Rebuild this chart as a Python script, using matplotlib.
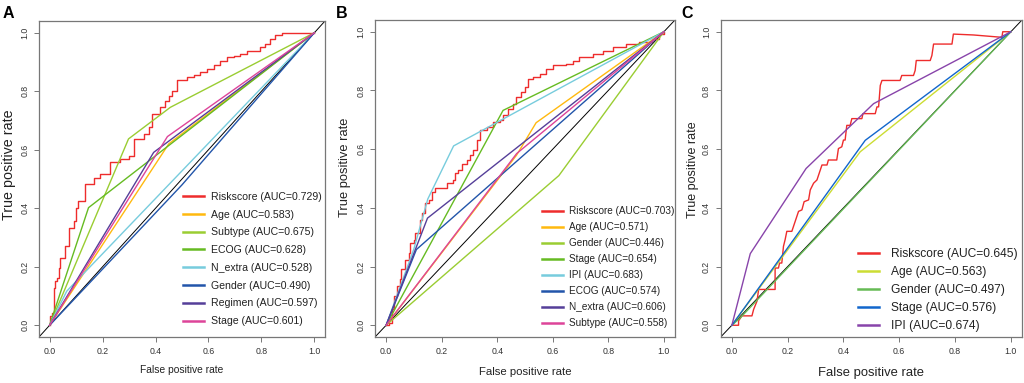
import matplotlib
matplotlib.use("Agg")
import matplotlib.pyplot as plt
from matplotlib import font_manager

# ---------------- data ----------------
# Panel A
a_names = ["Riskscore", "Age", "Subtype", "ECOG", "N_extra", "Gender", "Regimen", "Stage"]
a_auc = ["0.729", "0.583", "0.675", "0.628", "0.528", "0.490", "0.597", "0.601"]
a_colors = ["#EE2C2C", "#FFB90F", "#9ACD32", "#66BB22", "#77CCDD", "#2255AA", "#553F99", "#DD4499"]
a_risk_fpr = [0, 0.0025, 0.009, 0.015, 0.021, 0.028, 0.034, 0.040, 0.059, 0.074, 0.093, 0.101, 0.106,
              0.135, 0.166, 0.191, 0.227, 0.267, 0.298, 0.317, 0.358, 0.374, 0.387, 0.416, 0.437,
              0.450, 0.462, 0.481, 0.519, 0.544, 0.569, 0.594, 0.620, 0.645, 0.670, 0.695, 0.720,
              0.746, 0.796, 0.815, 0.834, 0.853, 0.878, 1.0]
a_risk_tpr = [0, 0.031, 0.042, 0.128, 0.151, 0.162, 0.197, 0.231, 0.271, 0.334, 0.357, 0.402, 0.425,
              0.482, 0.505, 0.517, 0.557, 0.568, 0.579, 0.637, 0.654, 0.677, 0.722, 0.745, 0.768,
              0.785, 0.802, 0.837, 0.848, 0.854, 0.865, 0.877, 0.888, 0.905, 0.917, 0.922, 0.928,
              0.939, 0.951, 0.962, 0.979, 0.991, 1.0, 1.0]
a_age_fpr = [0, 0.45, 1]
a_age_tpr = [0, 0.62, 1]
a_subtype_fpr = [0, 0.298, 0.456, 1]
a_subtype_tpr = [0, 0.637, 0.745, 1]
a_ecog_fpr = [0, 0.147, 1]
a_ecog_tpr = [0, 0.402, 1]
a_nextra_fpr = [0, 0.065, 1]
a_nextra_tpr = [0, 0.117, 1]
a_gender_fpr = [0, 0.5, 1]
a_gender_tpr = [0, 0.48, 1]
a_regimen_fpr = [0, 0.393, 1]
a_regimen_tpr = [0, 0.591, 1]
a_stage_fpr = [0, 0.445, 1]
a_stage_tpr = [0, 0.645, 1]

# Panel B
b_names = ["Riskscore", "Age", "Gender", "Stage", "IPI", "ECOG", "N_extra", "Subtype"]
b_auc = ["0.703", "0.571", "0.446", "0.654", "0.683", "0.574", "0.606", "0.558"]
b_colors = ["#EE2C2C", "#FFB90F", "#9ACD32", "#66BB22", "#77CCDD", "#2255AA", "#553F99", "#DD4499"]
b_risk_fpr = [0, 0.010, 0.021, 0.027, 0.039, 0.051, 0.055, 0.069, 0.081, 0.087, 0.099, 0.105, 0.123,
              0.129, 0.141, 0.153, 0.165, 0.177, 0.218, 0.242, 0.248, 0.260, 0.272, 0.290, 0.302,
              0.314, 0.326, 0.338, 0.362, 0.385, 0.409, 0.421, 0.439, 0.457, 0.469, 0.487, 0.499,
              0.511, 0.529, 0.553, 0.576, 0.600, 0.648, 0.672, 0.696, 0.743, 0.779, 0.815, 0.863,
              0.910, 0.958, 0.982, 1.0]
b_risk_tpr = [0, 0.009, 0.054, 0.099, 0.133, 0.156, 0.190, 0.224, 0.246, 0.280, 0.292, 0.314, 0.359,
              0.382, 0.416, 0.427, 0.455, 0.467, 0.484, 0.495, 0.518, 0.529, 0.551, 0.563, 0.580,
              0.597, 0.631, 0.664, 0.676, 0.693, 0.698, 0.715, 0.738, 0.755, 0.777, 0.794, 0.811,
              0.840, 0.845, 0.856, 0.873, 0.885, 0.890, 0.902, 0.913, 0.924, 0.936, 0.947, 0.958,
              0.964, 0.975, 0.992, 1.0]
b_age_fpr = [0, 0.47, 0.54, 1]
b_age_tpr = [0, 0.58, 0.69, 1]
b_gender_fpr = [0, 0.622, 1]
b_gender_tpr = [0, 0.51, 1]
b_stage_fpr = [0, 0.421, 1]
b_stage_tpr = [0, 0.732, 1]
b_ipi_fpr = [0, 0.10, 0.15, 0.243, 1]
b_ipi_tpr = [0, 0.26, 0.43, 0.611, 1]
b_ecog_fpr = [0, 0.109, 1]
b_ecog_tpr = [0, 0.258, 1]
b_nextra_fpr = [0, 0.149, 1]
b_nextra_tpr = [0, 0.365, 1]
b_subtype_fpr = [0, 0.47, 1]
b_subtype_tpr = [0, 0.585, 1]

# Panel C
c_names = ["Riskscore", "Age", "Gender", "Stage", "IPI"]
c_auc = ["0.645", "0.563", "0.497", "0.576", "0.674"]
c_colors = ["#EE2C2C", "#CCDD33", "#66BB55", "#1166CC", "#8844AA"]
c_risk_fpr = [0, 0.024, 0.024, 0.036, 0.072, 0.078, 0.090, 0.096, 0.155, 0.155, 0.167, 0.171, 0.179,
              0.185, 0.191, 0.197, 0.215, 0.221, 0.227, 0.233, 0.239, 0.251, 0.259, 0.275, 0.281,
              0.293, 0.305, 0.311, 0.323, 0.341, 0.346, 0.376, 0.382, 0.394, 0.400, 0.406, 0.412,
              0.424, 0.430, 0.466, 0.470, 0.514, 0.520, 0.526, 0.532, 0.538, 0.603, 0.609, 0.651,
              0.657, 0.661, 0.711, 0.717, 0.723, 0.789, 0.794, 0.866, 0.968, 0.971, 1.0]
c_risk_tpr = [0, 0, 0.015, 0.032, 0.032, 0.054, 0.082, 0.122, 0.122, 0.195, 0.195, 0.212, 0.212,
              0.269, 0.292, 0.320, 0.320, 0.337, 0.354, 0.371, 0.388, 0.393, 0.421, 0.427, 0.461,
              0.484, 0.495, 0.512, 0.546, 0.546, 0.563, 0.563, 0.602, 0.608, 0.631, 0.631, 0.681,
              0.681, 0.704, 0.704, 0.721, 0.721, 0.744, 0.744, 0.817, 0.834, 0.834, 0.851, 0.851,
              0.868, 0.902, 0.902, 0.919, 0.958, 0.958, 0.992, 0.989, 0.981, 1.0, 1.0]
c_age_fpr = [0, 0.46, 1]
c_age_tpr = [0, 0.591, 1]
c_gender_fpr = [0, 0.03, 1]
c_gender_tpr = [0, 0.025, 1]
c_stage_fpr = [0, 0.478, 1]
c_stage_tpr = [0, 0.63, 1]
c_ipi_fpr = [0, 0.066, 0.266, 0.508, 1]
c_ipi_tpr = [0, 0.244, 0.534, 0.755, 1]

ticks = [0.0, 0.2, 0.4, 0.6, 0.8, 1.0]
tick_labels = ["0.0", "0.2", "0.4", "0.6", "0.8", "1.0"]

# ---------------- fonts ----------------
fm = font_manager.fontManager
avail = {f.name for f in fm.ttflist}
REG = "Liberation Sans" if "Liberation Sans" in avail else "DejaVu Sans"

# try to find a condensed sans face (the reference text is horizontally squeezed)
NARROW_PROP = None
if "Liberation Sans Narrow" in avail:
    NARROW_PROP = font_manager.FontProperties(family="Liberation Sans Narrow")
else:
    for pref in ["Arimo", "Noto Sans", "Open Sans", "Roboto", "Lato"]:
        hits = [f for f in fm.ttflist if f.name == pref and str(f.stretch) in
                ("condensed", "semi-condensed", "extra-condensed", "550", "600", "700")
                and str(f.style) == "normal" and f.weight in (400, "normal", "regular")]
        if hits:
            NARROW_PROP = font_manager.FontProperties(family=pref, stretch=hits[0].stretch)
            break
if NARROW_PROP is None:
    NARROW_PROP = font_manager.FontProperties(family=REG)

W, H = 1024, 383
fig = plt.figure(figsize=(W / 100, H / 100), dpi=100)
fig.patch.set_facecolor("white")
renderer = fig.canvas.get_renderer()


def fx(px):
    return px / W


def fy(py):
    return 1 - py / H


def measure(s, prop, size, rotation=0):
    p = prop.copy()
    p.set_size(size)
    t = fig.text(0, 0, s, fontproperties=p, rotation=rotation)
    bb = t.get_window_extent(renderer)
    t.remove()
    return bb.width, bb.height


def size_for_width(s, prop, target_px):
    w, _ = measure(s, prop, 10.0)
    return 10.0 * target_px / w


REG_PROP = font_manager.FontProperties(family=REG)

panels = [
    dict(letter="A", box=(39, 21, 325, 337), letter_x=3, letter_base=18.3,
         names=a_names, auc=a_auc, colors=a_colors,
         curves=[(a_risk_fpr, a_risk_tpr), (a_age_fpr, a_age_tpr), (a_subtype_fpr, a_subtype_tpr),
                 (a_ecog_fpr, a_ecog_tpr), (a_nextra_fpr, a_nextra_tpr), (a_gender_fpr, a_gender_tpr),
                 (a_regimen_fpr, a_regimen_tpr), (a_stage_fpr, a_stage_tpr)],
         risk_steps=True, leg_x=182.7, leg_y0=196.7, leg_dy=17.8, leg_w=110.7, leg_gap=7,
         ylab_x=9, ylab_y=165, ylab_len=110, xlab_y=370, xlab_w=84),
    dict(letter="B", box=(375, 20, 675, 337), letter_x=336, letter_base=18.3,
         names=b_names, auc=b_auc, colors=b_colors,
         curves=[(b_risk_fpr, b_risk_tpr), (b_age_fpr, b_age_tpr), (b_gender_fpr, b_gender_tpr),
                 (b_stage_fpr, b_stage_tpr), (b_ipi_fpr, b_ipi_tpr), (b_ecog_fpr, b_ecog_tpr),
                 (b_nextra_fpr, b_nextra_tpr), (b_subtype_fpr, b_subtype_tpr)],
         risk_steps=True, leg_x=541.7, leg_y0=211.2, leg_dy=16.0, leg_w=105, leg_gap=6.7,
         ylab_x=345, ylab_y=167, ylab_len=100, xlab_y=372, xlab_w=93),
    dict(letter="C", box=(720.7, 20, 1022, 337), letter_x=681.7, letter_base=18.3,
         names=c_names, auc=c_auc, colors=c_colors,
         curves=[(c_risk_fpr, c_risk_tpr), (c_age_fpr, c_age_tpr), (c_gender_fpr, c_gender_tpr),
                 (c_stage_fpr, c_stage_tpr), (c_ipi_fpr, c_ipi_tpr)],
         risk_steps=False, leg_x=858.3, leg_y0=254, leg_dy=18.0, leg_w=126.7, leg_gap=11.7,
         ylab_x=693, ylab_y=170, ylab_len=97, xlab_y=373, xlab_w=106),
]

for p in panels:
    l, t, r, b = p["box"]
    ax = fig.add_axes([fx(l), fy(b), fx(r) - fx(l), (b - t) / H])
    ax.set_xlim(-0.04, 1.04)
    ax.set_ylim(-0.04, 1.04)
    ax.axline((0, 0), (1, 1), color="black", lw=0.7, zorder=1)
    for i, ((xs, ys), name, auc, col) in enumerate(zip(p["curves"], p["names"], p["auc"], p["colors"])):
        kw = {}
        if i == 0 and p["risk_steps"]:
            kw["drawstyle"] = "steps-post"
        ax.plot(xs, ys, color=col, lw=1.0, label=f"{name} (AUC={auc})", zorder=2 + i, **kw)

    ax.set_xticks(ticks)
    ax.set_xticklabels(tick_labels)
    ax.set_yticks(ticks)
    ax.set_yticklabels(tick_labels, rotation=90, va="center")
    ax.tick_params(axis="both", labelsize=6.3, length=3.6, width=0.7, color="#777777",
                   labelcolor="#333333", pad=3.5)
    for lab in ax.get_xticklabels() + ax.get_yticklabels():
        lab.set_fontfamily(REG)
    for s in ax.spines.values():
        s.set_color("#777777")
        s.set_linewidth(0.9)

    # axis labels
    xl_prop = NARROW_PROP.copy()
    xl_prop.set_size(size_for_width("False positive rate", NARROW_PROP, p["xlab_w"]))
    ax.set_xlabel("False positive rate", fontproperties=xl_prop, color="#222222", va="center")
    ax.xaxis.set_label_coords(0.5, (b - p["xlab_y"]) / (b - t))
    yl_prop = REG_PROP.copy()
    yl_prop.set_size(size_for_width("True positive rate", REG_PROP, p["ylab_len"]))
    ax.set_ylabel("True positive rate", fontproperties=yl_prop, color="#222222",
                  va="center", ha="center")
    ax.yaxis.set_label_coords((p["ylab_x"] - l) / (r - l), (b - p["ylab_y"]) / (b - t))

    # legend
    first = f"{p['names'][0]} (AUC={p['auc'][0]})"
    fs_pt = size_for_width(first, NARROW_PROP, p["leg_w"])
    fs_px = fs_pt * 100 / 72
    _, text_h = measure(first, NARROW_PROP, fs_pt)
    labelspacing = max(p["leg_dy"] - text_h, 0) / fs_px
    handlelength = 21 / fs_px
    handletextpad = p["leg_gap"] / fs_px
    top_px = p["leg_y0"] - text_h / 2
    leg_prop = NARROW_PROP.copy()
    leg_prop.set_size(fs_pt)
    leg = ax.legend(loc="upper left", bbox_to_anchor=(fx(p["leg_x"]), fy(top_px)),
                    bbox_transform=fig.transFigure, frameon=False, borderpad=0, borderaxespad=0,
                    prop=leg_prop, labelspacing=labelspacing,
                    handlelength=handlelength, handletextpad=handletextpad, labelcolor="#222222")
    for h in leg.get_lines():
        h.set_linewidth(1.8)

    # panel letter
    fig.text(fx(p["letter_x"]), fy(p["letter_base"]), p["letter"], fontfamily=REG,
             fontweight="bold", fontsize=11.5, va="baseline", ha="left", color="black")

fig.savefig("out.png", dpi=100, facecolor="white")
